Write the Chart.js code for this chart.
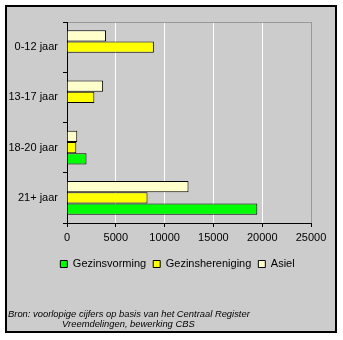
<!DOCTYPE html><html lang="nl"><meta charset="utf-8">
<title>Immigratie naar leeftijd en motief</title>
<script src="https://cdn.jsdelivr.net/npm/chart.js@4.4.1"></script>

<style>
*{box-sizing:border-box}
body{margin:0;background:#fff;width:343px;height:340px;position:relative;overflow:hidden}
#frame{position:absolute;left:5px;top:5px;width:332px;height:328px;border:2px solid #000;background:#ccc}
#chart{position:absolute;left:0;top:0}
.src{position:absolute;font:italic 9.4px "Liberation Sans",Arial,sans-serif;color:#000;white-space:nowrap;line-height:10px}
</style>

<body>
<div id="frame"></div>
<canvas id="chart" width="343" height="340"></canvas>
<div class="src" style="left:8px;top:309px">Bron: voorlopige cijfers op basis van het Centraal Register</div>
<div class="src" style="left:62px;top:319px">Vreemdelingen, bewerking CBS</div>

<script>
const categories       = ['0-12 jaar', '13-17 jaar', '18-20 jaar', '21+ jaar'];
const gezinsvorming    = [0, 0, 2000, 19500];
const gezinshereniging = [8900, 2800, 950, 8250];
const asiel            = [4000, 3700, 1050, 12450];
const xMax = 25000, xStep = 5000;

Chart.defaults.font.family = '"Liberation Sans", Arial, sans-serif';
Chart.defaults.font.size = 11;
Chart.defaults.color = '#000';

// bovenste balk per groep = Asiel, daarom staat die als eerste dataset
const bar = (label, data, color) => ({
  label, data, backgroundColor: color, borderColor: '#000', borderWidth: 1
});

// legenda iets naar rechts, midden onder het plotvlak + as-labels
const shiftLegend = {
  id: 'shiftLegend',
  afterLayout(chart) {
    if (!chart.legend) return;
    chart.legend.left += 22;
    chart.legend.right += 22;
  }
};

new Chart(document.getElementById('chart').getContext('2d'), {
  type: 'bar',
  data: {
    labels: categories,
    datasets: [
      bar('Asiel', asiel, '#ffffcc'),
      bar('Gezinshereniging', gezinshereniging, '#ffff00'),
      bar('Gezinsvorming', gezinsvorming, '#00ff00')
    ]
  },
  options: {
    indexAxis: 'y',
    responsive: false,
    animation: false,
    layout: {padding: {left: 0, right: 32, top: 22, bottom: 60.5}},
    datasets: {bar: {categoryPercentage: 0.67, barPercentage: 1}},
    scales: {
      x: {
        min: 0, max: xMax,
        ticks: {stepSize: xStep, padding: 4, maxRotation: 0, callback: v => String(v)},
        grid: {
          color: c => c.tick && c.tick.value === xMax ? '#999' : '#fff',
          tickColor: '#000', tickLength: 4
        },
        border: {color: '#000'},
        afterFit: s => { s.height = 28.5; }
      },
      y: {
        ticks: {padding: 5},
        grid: {
          color: c => c.index === 0 ? '#999' : 'rgba(0,0,0,0)',
          tickColor: '#000', tickLength: 4
        },
        border: {color: '#000'},
        afterFit: s => { s.width = 67; }
      }
    },
    plugins: {
      legend: {
        position: 'bottom',
        reverse: true,
        labels: {boxWidth: 7, boxHeight: 7, padding: 7}
      },
      tooltip: {enabled: false}
    }
  },
  plugins: [shiftLegend]
});
</script>
</body></html>
